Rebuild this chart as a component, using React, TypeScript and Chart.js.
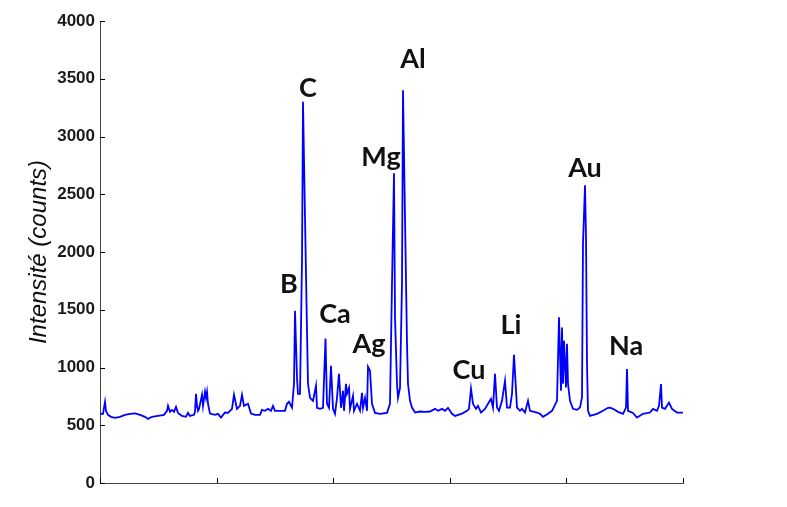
import React, { useEffect, useRef } from "react";
import { Chart, registerables } from "chart.js";

Chart.register(...registerables);

// Spectrum: channel index (0..583) and intensity in counts
const CHANNEL = [
  0, 3, 5, 6, 8, 11, 15, 20, 25, 30, 35, 40, 45, 48, 52, 58, 64, 67, 68, 70,
  72, 74, 76, 78, 82, 86, 88, 90, 94, 95, 96, 97, 98, 99, 102, 103, 105, 106, 107, 108,
  110, 115, 118, 121, 125, 128, 132, 134, 137, 140, 142, 144, 148, 151, 155, 160, 162, 165, 168, 171,
  173, 175, 180, 185, 187, 189, 192, 194, 195, 197, 198, 200, 202, 203, 205, 207, 208, 210, 213, 216,
  217, 220, 223, 225.5, 227, 229, 231, 233, 235, 237, 239, 241, 243, 244, 246, 247, 249, 250, 253, 254,
  257, 260, 262, 263, 265, 267, 268, 270, 272, 275, 280, 287, 290, 292, 294, 295, 297, 298, 300, 302,
  303, 305, 307, 308, 310, 312, 315, 320, 325, 330, 335, 338, 342, 345, 348, 352, 355, 362, 367, 369,
  371, 373, 376, 378, 381, 385, 388, 391, 393, 395, 397, 399, 402, 405, 407, 410, 412, 414, 417, 420,
  422, 425, 428, 430, 437, 440, 443, 448, 452, 457, 459, 461, 462, 463, 464, 466, 467, 468, 470, 473,
  477, 480, 482, 483, 485, 486, 487, 488, 490, 497, 503, 508, 510, 513, 518, 523, 526, 527, 528, 533,
  537, 543, 550, 553, 557, 559, 561, 562, 565, 569, 572, 577, 583,
];
const COUNTS = [
  599, 599, 703, 625, 590, 573, 564, 573, 590, 599, 603, 590, 573, 555, 573, 581, 590, 625, 668, 616,
  633, 616, 659, 607, 581, 573, 607, 581, 590, 616, 772, 668, 625, 642, 764, 668, 790, 738, 790, 686,
  601, 590, 599, 567, 610, 607, 642, 764, 642, 668, 764, 668, 686, 601, 590, 590, 633, 625, 642, 625,
  668, 625, 625, 625, 686, 703, 653, 859, 1492, 911, 772, 772, 1926, 3300, 2302, 1319, 859, 738, 711, 842,
  651, 642, 651, 1250, 686, 651, 1015, 642, 599, 738, 946, 651, 798, 625, 859, 772, 824, 642, 755, 625,
  686, 625, 781, 651, 738, 625, 1007, 972, 686, 607, 599, 607, 686, 1727, 2681, 1432, 859, 738, 824, 1727,
  3401, 2300, 1206, 859, 711, 653, 610, 619, 616, 619, 642, 625, 642, 625, 651, 599, 581, 601, 625, 642,
  818, 686, 642, 668, 610, 642, 686, 729, 653, 946, 653, 625, 711, 885, 653, 653, 772, 1111, 653, 625,
  642, 610, 711, 625, 610, 599, 573, 599, 625, 711, 1434, 798, 1347, 859, 1232, 827, 1206, 859, 711, 642,
  633, 653, 740, 2074, 2577, 2128, 1032, 625, 581, 599, 625, 651, 653, 642, 616, 599, 653, 987, 625, 607,
  567, 599, 610, 642, 625, 668, 856, 653, 642, 697, 642, 610, 610,
];

const Y_TICKS = [0, 500, 1000, 1500, 2000, 2500, 3000, 3500, 4000];
const X_TICKS = [0, 116.6, 233.2, 349.8, 466.4, 583];

const PEAK_NAMES = ["B", "C", "Ca", "Ag", "Mg", "Al", "Cu", "Li", "Au", "Na"];
const PEAK_X = [189, 208, 235, 269, 281, 313, 369, 411, 485, 526];
const PEAK_Y = [1718, 3419, 1458, 1197, 2820, 3670, 972, 1362, 2725, 1180];

const Y_TITLE = "Intensité (counts)";

export default function App() {
  const ref = useRef<HTMLCanvasElement | null>(null);

  useEffect(() => {
    if (!ref.current) return;
    const data = CHANNEL.map((c, i) => ({ x: c, y: COUNTS[i] }));

    const innerTicks = {
      id: "innerTicks",
      afterDraw(chart: any) {
        const { ctx, scales } = chart;
        const xs = scales.x;
        const ys = scales.y;
        ctx.save();
        ctx.strokeStyle = "#000";
        ctx.lineWidth = 1;
        ctx.beginPath();
        xs.ticks.forEach((_t: any, i: number) => {
          const px = Math.round(xs.getPixelForTick(i)) + 0.5;
          ctx.moveTo(px, ys.bottom);
          ctx.lineTo(px, ys.bottom - 5);
        });
        ys.ticks.forEach((_t: any, i: number) => {
          const py = Math.round(ys.getPixelForTick(i)) + 0.5;
          ctx.moveTo(xs.left, py);
          ctx.lineTo(xs.left + 5, py);
        });
        ctx.stroke();
        ctx.restore();
      },
    };

    const peakLabels = {
      id: "peakLabels",
      afterDatasetsDraw(chart: any) {
        const { ctx, scales } = chart;
        ctx.save();
        ctx.fillStyle = "#111";
        ctx.font = "bold 27px Lato";
        ctx.textAlign = "center";
        ctx.textBaseline = "middle";
        PEAK_NAMES.forEach((n, i) => {
          ctx.fillText(
            n,
            scales.x.getPixelForValue(PEAK_X[i]),
            scales.y.getPixelForValue(PEAK_Y[i])
          );
        });
        ctx.restore();
      },
    };

    const chart = new Chart(ref.current, {
      type: "line",
      data: {
        datasets: [
          {
            data,
            borderColor: "#0000ff",
            borderWidth: 1.8,
            pointRadius: 0,
            tension: 0,
            fill: false,
          },
        ],
      },
      options: {
        animation: false,
        responsive: false,
        maintainAspectRatio: false,
        layout: { padding: { top: 21, right: 104, left: 0, bottom: 0 } },
        plugins: { legend: { display: false }, tooltip: { enabled: false } },
        scales: {
          x: {
            type: "linear",
            min: 0,
            max: 583,
            afterBuildTicks: (s: any) => {
              s.ticks = X_TICKS.map((v) => ({ value: v }));
            },
            afterFit: (s: any) => {
              s.height = 24;
            },
            ticks: { display: false },
            grid: { display: false, drawTicks: false },
            border: { display: true, color: "#444", width: 1 },
          },
          y: {
            type: "linear",
            min: 0,
            max: 4000,
            afterBuildTicks: (s: any) => {
              s.ticks = Y_TICKS.map((v) => ({ value: v }));
            },
            afterFit: (s: any) => {
              s.width = 100;
            },
            ticks: {
              padding: 5,
              color: "#1a1a1a",
              font: { family: "Liberation Sans", size: 17, weight: "bold" },
              callback: (v: any) => String(v),
            },
            grid: { display: false, drawTicks: false },
            border: { display: true, color: "#444", width: 1 },
            title: {
              display: true,
              text: Y_TITLE,
              color: "#111",
              font: { family: "Liberation Sans", size: 24, style: "italic" },
              padding: { top: 25, bottom: 0 },
            },
          },
        },
      },
      plugins: [innerTicks, peakLabels],
    });

    return () => chart.destroy();
  }, []);

  return (
    <div style={{ position: "fixed", left: 0, top: 0, width: 787, height: 507, background: "#fff" }}>
      <canvas ref={ref} width={787} height={507} style={{ width: 787, height: 507 }} />
    </div>
  );
}
